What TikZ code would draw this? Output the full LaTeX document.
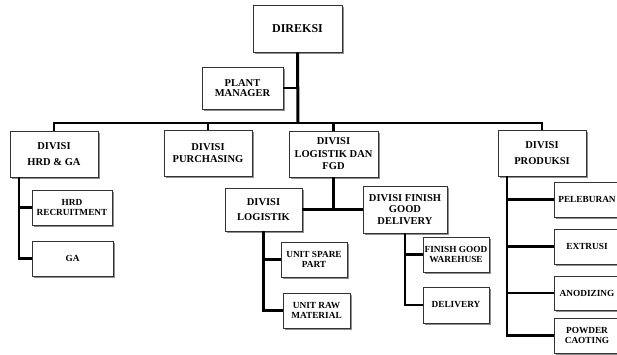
\documentclass[tikz,border=0pt]{standalone}
\usepackage{fontspec}
\setmainfont{Liberation Serif}
\usetikzlibrary{shadows}
\tikzset{
  orgbox/.style={draw=black!80, line width=0.8pt, fill=white, align=center,
    inner sep=1pt, font=\bfseries,
    drop shadow={shadow xshift=1.5pt, shadow yshift=-1.5pt, fill=black!55, opacity=0.8}},
  big/.style={font=\fontsize{10.5}{11.5}\selectfont\bfseries},
  small/.style={font=\fontsize{9.3}{10.5}\selectfont\bfseries},
  link/.style={line width=2.2pt},
  trunk/.style={line width=3pt},
}
\begin{document}
\begin{tikzpicture}[x=1pt,y=-1pt]
\useasboundingbox (0,0) rectangle (617,354);
\clip (0,0) rectangle (617,354);
\fill[white] (0,0) rectangle (617,354);
% nodes
\node[orgbox, font=\fontsize{12}{13}\selectfont\bfseries, minimum width=89pt, minimum height=47pt] (direksi) at (297.5,28.5) {DIREKSI};
\node[orgbox, big, minimum width=81pt, minimum height=42pt] (plant) at (242.5,88) {PLANT\\[-1pt]MANAGER};
\node[orgbox, big, minimum width=88pt, minimum height=46pt] (hrd) at (54,154) {DIVISI\\[5pt]HRD \& GA};
\node[orgbox, big, minimum width=88pt, minimum height=46pt] (purch) at (208,153) {DIVISI\\PURCHASING};
\node[orgbox, big, minimum width=89pt, minimum height=46pt] (logfgd) at (333.5,154) {DIVISI\\[1pt]LOGISTIK DAN\\[1pt]FGD};
\node[orgbox, big, minimum width=88pt, minimum height=46pt] (prod) at (542,153) {DIVISI\\[5pt]PRODUKSI};
\node[orgbox, small, minimum width=80pt, minimum height=35pt] (hrdrec) at (72,207.5) {HRD\\[-0.5pt]RECRUITMENT};
\node[orgbox, small, minimum width=81pt, minimum height=35pt] (ga) at (72.5,258.5) {GA};
\node[orgbox, big, minimum width=77pt, minimum height=43pt] (log) at (263.5,209.5) {DIVISI\\[4pt]LOGISTIK};
\node[orgbox, big, minimum width=84pt, minimum height=47pt] (fin) at (405,209.5) {DIVISI FINISH\\GOOD\\DELIVERY};
\node[orgbox, small, minimum width=66pt, minimum height=35pt] (usp) at (314,259.5) {UNIT SPARE\\PART};
\node[orgbox, small, minimum width=67pt, minimum height=35pt] (urm) at (316.5,310.5) {UNIT RAW\\MATERIAL};
\node[orgbox, small, minimum width=66pt, minimum height=35pt] (fgw) at (456,254.5) {FINISH GOOD\\WAREHUSE};
\node[orgbox, small, minimum width=66pt, minimum height=36pt] (del) at (456,305) {DELIVERY};
\node[orgbox, small, minimum width=66pt, minimum height=35pt] (pel) at (587,199.5) {PELEBURAN};
\node[orgbox, small, minimum width=66pt, minimum height=35pt] (ext) at (587,246.5) {EXTRUSI};
\node[orgbox, small, minimum width=66pt, minimum height=34pt] (ano) at (587,293) {ANODIZING};
\node[orgbox, small, minimum width=66pt, minimum height=35pt] (pow) at (587,335.5) {POWDER\\CAOTING};
% helper coordinates
\coordinate (bus) at (298,123);
\coordinate (hrdv) at (19,177);
\coordinate (prodv) at (507,176);
% connectors
\draw[trunk] (direksi.south) -- (bus);
\draw[link] (plant.east) -- (plant.east -| direksi.south);
\draw[link] (hrd.north) |- (bus) -| (prod.north);
\draw[link] (purch.north) -- (purch.north |- bus);
\draw[link] (logfgd.north) -- (logfgd.north |- bus);
\draw[link] (hrdv) |- (ga.west);
\draw[link] (hrdv |- hrdrec.west) -- (hrdrec.west);
\draw[link] (logfgd.south) -- (logfgd.south |- log.east);
\draw[link] (log.east) -- (fin.west);
\draw[link] (log.south) |- (urm.west);
\draw[link] (log.south |- usp.west) -- (usp.west);
\draw[link] (fin.south) |- (del.west);
\draw[link] (fin.south |- fgw.west) -- (fgw.west);
\draw[link] (prodv) |- (pow.west);
\draw[link] (prodv |- pel.west) -- (pel.west);
\draw[link] (prodv |- ext.west) -- (ext.west);
\draw[link] (prodv |- ano.west) -- (ano.west);
\end{tikzpicture}
\end{document}
